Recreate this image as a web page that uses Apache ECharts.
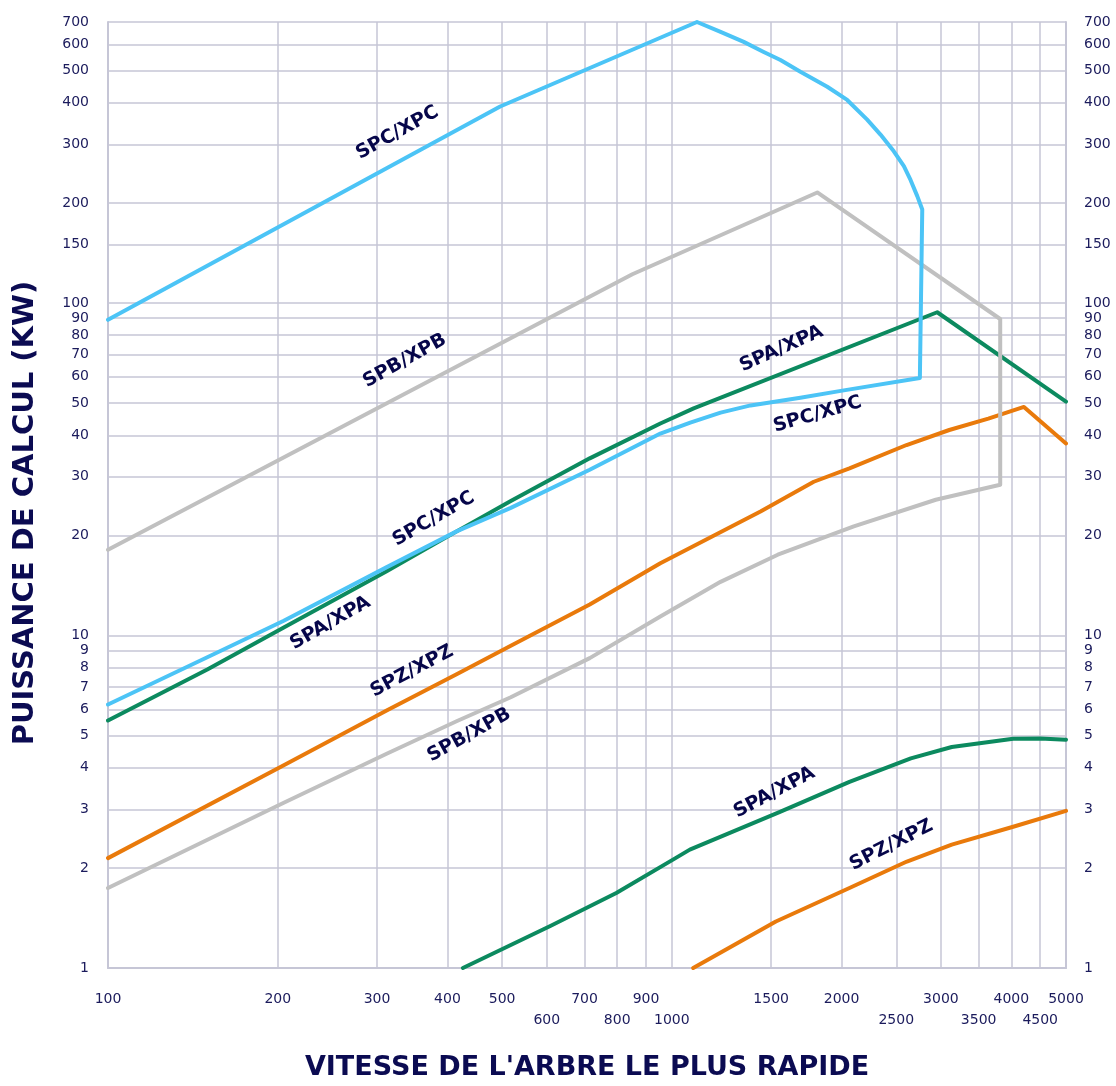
<!DOCTYPE html>
<html>
<head>
<meta charset="utf-8">
<script src="https://cdn.jsdelivr.net/npm/echarts@6/dist/echarts.min.js"></script>
<style>
html,body{margin:0;padding:0;background:#ffffff;}
#chart{width:1116px;height:1086px;}
</style>
</head>
<body>
<div id="chart"></div>
<script>
// ---------- axis values ----------
const xGridValues = [100,200,300,400,500,600,700,800,900,1000,1500,2000,2500,3000,3500,4000,4500,4999.9];
const xLabelsUpperRow = [100,200,300,400,500,700,900,1500,2000,3000,4000,4999.9];
const xLabelsLowerRow = [600,800,1000,2500,3500,4500];
const yGridValues = [1,2,3,4,5,6,7,8,9,10,20,30,40,50,60,70,80,90,100,150,200,300,400,500,600,699.9];
const yLabelValues = [1,2,3,4,5,6,7,8,9,10,20,30,40,50,60,70,80,90,100,150,200,300,400,500,600,699.9];

// ---------- curves [speed, kW] ----------
const spcXpc = [
  [100,89],[496,390],[1108,700],[1220,654],[1341,610],[1455,569],[1558,538],[1690,496],
  [1886,447],[2046,408],[2220,356],[2344,321],[2475,286],[2579,258],[2650,234.5],
  [2724,209.6],[2780,191],[2753,59.5],[2018,54.6],[1690,51.9],[1379,49.2],[1220,46.8],
  [1078,43.7],[954,40.5],[715,31.5],[518,24.2],[416,20.6],[311,16.0],[205,11.07],
  [150,8.6],[100,6.2]
];
const spbXpb = [
  [100,18.1],[851,122],[1811,215],[3822,89.5],[3822,28.4],[2938,25.6],[2102,21.3],
  [1541,17.5],[1220,14.5],[954,11.4],[715,8.55],[518,6.52],[416,5.53],
  [312,4.41],[205,3.14],[100,1.74]
];
const spaXpaUpper = [
  [100,5.55],[150,7.9],[205,10.57],[312,15.6],[416,20.6],[518,25.4],[715,34.1],
  [954,43.4],[1093,48.2],[2955,93.8],[5000,50.5]
];
const spaXpaLower = [
  [426,1.0],[610,1.34],[797,1.68],[1015,2.14],[1076,2.27],[1555,2.95],[2065,3.63],
  [2653,4.27],[3136,4.62],[4030,4.89],[4500,4.9],[5000,4.86]
];
const spzXpzUpper = [
  [100,2.14],[205,4.07],[312,5.95],[416,7.66],[518,9.31],[715,12.4],[954,16.5],
  [1436,23.6],[1785,29.0],[2065,31.8],[2607,37.4],[3104,41.5],[3641,44.9],[4211,48.7],[5000,37.8]
];
const spzXpzLower = [
  [1091,1.0],[1529,1.38],[2065,1.74],[2611,2.09],[3136,2.35],[4030,2.66],[5000,2.97]
];

// ---------- curve annotations ----------
const curveLabelText = ['SPC/XPC','SPB/XPB','SPA/XPA','SPC/XPC','SPC/XPC','SPA/XPA','SPZ/XPZ','SPB/XPB','SPA/XPA','SPZ/XPZ'];
const curveLabelAt = [[326,325],[336,67],[1564,72.8],[1813,46.2],[378,22.4],[248,10.9],[346,7.8],[437,5.02],[1520,3.37],[2452,2.34]];
const curveLabelAngle = [29,29,24,16,30,30,28,29,28,27];

// ---------- styles ----------
const FONT = '"DejaVu Sans", Verdana, sans-serif';
const NAVY = '#1b1b5c';
const LABEL_NAVY = '#06064a';
const TITLE_NAVY = '#0b0b52';
const GRID_COLOR = '#c6c6d6';
const COLORS = { spc:'#4cc4f6', spb:'#c0c0c0', spa:'#0c8a5f', spz:'#e97a0b' };

const chart = echarts.init(document.getElementById('chart'), null, {renderer:'canvas'});

function lineSeries(name, data, color) {
  return {
    name: name, type: 'line', data: data, symbol: 'none', silent: true,
    smooth: false, animation: false,
    lineStyle: { color: color, width: 4, join: 'round', cap: 'round' },
    xAxisIndex: 0, yAxisIndex: 0
  };
}

const labelFmt = v => String(Math.round(v));

const yAxisCommon = {
  type: 'log', logBase: 10, min: 1, max: 700,
  axisLine: { show: true, lineStyle: { color: GRID_COLOR, width: 2 } },
  axisTick: { show: false, customValues: yGridValues },
  axisLabel: {
    customValues: yLabelValues, fontSize: 14, color: NAVY, fontFamily: FONT,
    showMinLabel: true, showMaxLabel: true, formatter: labelFmt
  }
};

const option = {
  backgroundColor: '#ffffff',
  animation: false,
  grid: { left: 108, right: 50, top: 22, bottom: 114, containLabel: false },
  xAxis: [
    {
      type: 'log', logBase: 10, min: 100, max: 5000, position: 'bottom',
      axisLine: { show: true, lineStyle: { color: GRID_COLOR, width: 2 } },
      axisTick: { show: false, customValues: xGridValues },
      splitLine: { show: true, lineStyle: { color: GRID_COLOR, width: 1.5 } },
      axisLabel: {
        customValues: xLabelsUpperRow, fontSize: 14, color: NAVY, fontFamily: FONT,
        margin: 21, lineHeight: 21, showMinLabel: true, showMaxLabel: true,
        formatter: labelFmt
      },
      name: "VITESSE DE L'ARBRE LE PLUS RAPIDE",
      nameLocation: 'middle', nameGap: 86,
      nameTextStyle: { fontSize: 27, fontWeight: 'bold', color: TITLE_NAVY, fontFamily: FONT }
    },
    {
      type: 'log', logBase: 10, min: 100, max: 5000, position: 'bottom', offset: 0,
      axisLine: { show: false },
      axisTick: { show: false },
      splitLine: { show: false },
      axisLabel: {
        customValues: xLabelsLowerRow, fontSize: 14, color: NAVY, fontFamily: FONT,
        margin: 42, lineHeight: 21, showMinLabel: true, showMaxLabel: true,
        formatter: labelFmt
      }
    }
  ],
  yAxis: [
    Object.assign({}, yAxisCommon, {
      position: 'left',
      splitLine: { show: true, lineStyle: { color: GRID_COLOR, width: 1.5 } },
      axisLabel: Object.assign({}, yAxisCommon.axisLabel, { margin: 19 }),
      name: 'PUISSANCE DE CALCUL (KW)', nameLocation: 'middle', nameGap: 68,
      nameTextStyle: {
        fontSize: 29, fontWeight: 'bold', color: TITLE_NAVY, fontFamily: FONT,
        padding: [0, 36, 0, 0]
      }
    }),
    Object.assign({}, yAxisCommon, {
      position: 'right',
      splitLine: { show: false },
      axisLabel: Object.assign({}, yAxisCommon.axisLabel, { margin: 18 })
    })
  ],
  series: [
    lineSeries('SPZ/XPZ haut', spzXpzUpper, COLORS.spz),
    lineSeries('SPZ/XPZ bas', spzXpzLower, COLORS.spz),
    lineSeries('SPA/XPA haut', spaXpaUpper, COLORS.spa),
    lineSeries('SPA/XPA bas', spaXpaLower, COLORS.spa),
    lineSeries('SPB/XPB', spbXpb, COLORS.spb),
    lineSeries('SPC/XPC', spcXpc, COLORS.spc),
    {
      type: 'scatter', silent: true, symbolSize: 1,
      itemStyle: { color: 'rgba(255,255,255,0)' },
      label: {
        show: true, position: 'inside', fontSize: 19, fontWeight: 'bold',
        color: LABEL_NAVY, fontFamily: FONT, opacity: 1,
        textBorderWidth: 0, textShadowBlur: 0
      },
      data: curveLabelText.map((t, i) => ({
        value: curveLabelAt[i],
        label: { formatter: t, rotate: curveLabelAngle[i] }
      })),
      z: 10
    }
  ]
};
chart.setOption(option);
</script>
</body>
</html>
